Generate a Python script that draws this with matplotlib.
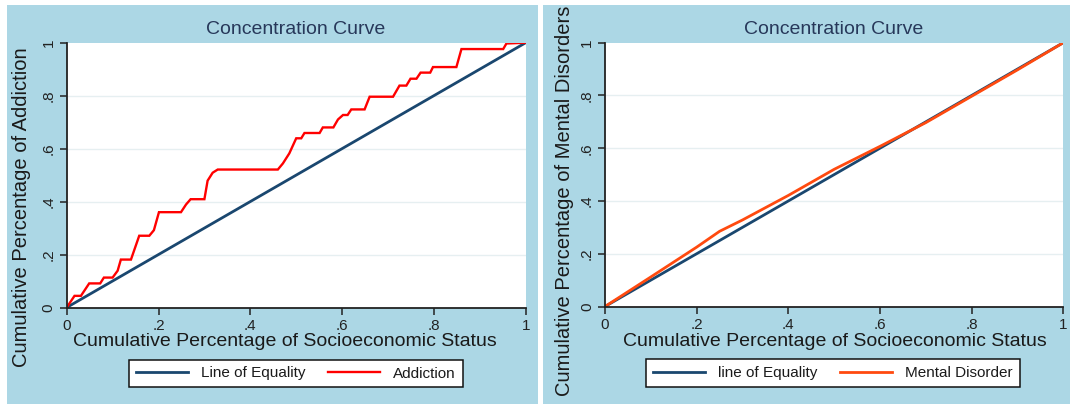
import matplotlib
matplotlib.use("Agg")
import matplotlib.pyplot as plt
from matplotlib.patches import Rectangle
from matplotlib.lines import Line2D

plt.rcParams['font.family'] = ['Liberation Sans', 'DejaVu Sans']

# ---- data ----
equality_x = [0.0, 1.0]
equality_y = [0.0, 1.0]

addiction_x = [0.0, 0.017, 0.031, 0.049, 0.073, 0.081, 0.100, 0.111, 0.118, 0.140,
               0.158, 0.180, 0.190, 0.201, 0.249, 0.260, 0.270, 0.300, 0.307, 0.318,
               0.329, 0.460, 0.471, 0.485, 0.500, 0.511, 0.518, 0.551, 0.558, 0.581,
               0.591, 0.602, 0.612, 0.620, 0.649, 0.660, 0.711, 0.725, 0.740, 0.749,
               0.762, 0.771, 0.792, 0.798, 0.849, 0.860, 0.951, 0.958, 1.0]
addiction_y = [0.0, 0.044, 0.044, 0.091, 0.091, 0.113, 0.113, 0.139, 0.181, 0.181,
               0.271, 0.271, 0.292, 0.360, 0.360, 0.389, 0.409, 0.409, 0.479, 0.509,
               0.521, 0.521, 0.544, 0.582, 0.639, 0.639, 0.659, 0.659, 0.680, 0.680,
               0.710, 0.727, 0.727, 0.748, 0.748, 0.796, 0.796, 0.838, 0.838, 0.864,
               0.864, 0.887, 0.887, 0.908, 0.908, 0.976, 0.976, 0.997, 1.0]

mental_x = [0.0, 0.1, 0.2, 0.25, 0.3, 0.4, 0.5, 0.6, 0.7, 0.8, 0.9, 1.0]
mental_y = [0.0, 0.112, 0.225, 0.285, 0.328, 0.421, 0.520, 0.607, 0.697, 0.797, 0.897, 1.0]

xticks = [0, 0.2, 0.4, 0.6, 0.8, 1.0]
tick_labels = ['0', '.2', '.4', '.6', '.8', '1']

W, H = 1070, 404
BG = '#acd7e5'
NAVY = '#1a476f'
TITLE_C = '#27385a'

fig = plt.figure(figsize=(W / 100, H / 100), dpi=100, facecolor='white')

def fx(px):
    return px / W

def fy(py):
    return 1 - py / H

panels = [
    dict(bg=(7, 5, 538, 404), ax=(66.7, 42.7, 525.7, 307.5),
         title_x=296, xlabel_x=285, ylabel=("Cumulative Percentage of Addiction", 22, 207),
         legend=(131, 359, 461, 388),
         series=[(equality_x, equality_y, NAVY, 2.0, "Line of Equality"),
                 (addiction_x, addiction_y, '#ff0000', 1.7, "Addiction")]),
    dict(bg=(543, 5, 1070, 404), ax=(605, 42.7, 1063.3, 306.5),
         title_x=834, xlabel_x=835, ylabel=("Cumulative Percentage of Mental Disorders", 565, 201),
         legend=(646, 358, 1020, 388),
         series=[(equality_x, equality_y, NAVY, 2.0, "line of Equality"),
                 (mental_x, mental_y, '#ff4a0f', 2.0, "Mental Disorder")]),
]

for p in panels:
    x0, y0, x1, y1 = p['bg']
    fig.patches.append(Rectangle((fx(x0), fy(y1)), fx(x1) - fx(x0), fy(y0) - fy(y1),
                                 transform=fig.transFigure, facecolor=BG,
                                 edgecolor='none', zorder=-5))
    ax0, ay0, ax1, ay1 = p['ax']
    ax = fig.add_axes([fx(ax0), fy(ay1), fx(ax1) - fx(ax0), fy(ay0) - fy(ay1)])
    ax.set_facecolor('white')
    ax.set_xlim(0, 1)
    ax.set_ylim(0, 1)
    for yv in [0.2, 0.4, 0.6, 0.8]:
        ax.axhline(yv, color='#e6eff1', lw=1.0, zorder=1)
    for sx, sy, c, lw, lab in p['series']:
        ax.plot(sx, sy, color=c, lw=lw, zorder=3, solid_joinstyle='miter')
    for s in ['top', 'right']:
        ax.spines[s].set_visible(False)
    for s in ['left', 'bottom']:
        ax.spines[s].set_color('#222222')
        ax.spines[s].set_linewidth(1.3)
        ax.spines[s].set_zorder(4)
    ax.set_xticks(xticks)
    ax.set_xticklabels(tick_labels)
    ax.set_yticks(xticks)
    ax.set_yticklabels(tick_labels, rotation=90, va='center')
    ax.tick_params(direction='out', length=5, width=1.1, color='#222222',
                   labelsize=11, labelcolor='#222222', pad=3)

    fig.text(fx(p['title_x']), fy(30), "Concentration Curve", ha='center', va='center',
             fontsize=14, color=TITLE_C)
    fig.text(fx(p['xlabel_x']), fy(341), "Cumulative Percentage of Socioeconomic Status",
             ha='center', va='center', fontsize=14, color='#1a1a1a')
    lab, lx, ly = p['ylabel']
    fig.text(fx(lx), fy(ly), lab, ha='center', va='center', rotation=90,
             fontsize=14.5, color='#1a1a1a')

    lx0, ly0, lx1, ly1 = p['legend']
    handles = [Line2D([0], [0], color=c, lw=lw) for _, _, c, lw, _ in p['series']]
    labels = [s[4] for s in p['series']]
    leg = fig.legend(handles, labels, loc='center',
                     bbox_to_anchor=(fx((lx0 + lx1) / 2), fy((ly0 + ly1) / 2)),
                     ncol=2, frameon=True, fancybox=False, fontsize=11,
                     handlelength=3.4, columnspacing=1.5, handletextpad=0.85,
                     borderpad=0.45, borderaxespad=0)
    leg.get_frame().set_edgecolor('#111111')
    leg.get_frame().set_linewidth(1.1)
    leg.get_frame().set_facecolor('white')
    leg.get_frame().set_alpha(1.0)
    for t in leg.get_texts():
        t.set_color('#1a1a1a')

fig.savefig('out.png', dpi=100, facecolor='white')
